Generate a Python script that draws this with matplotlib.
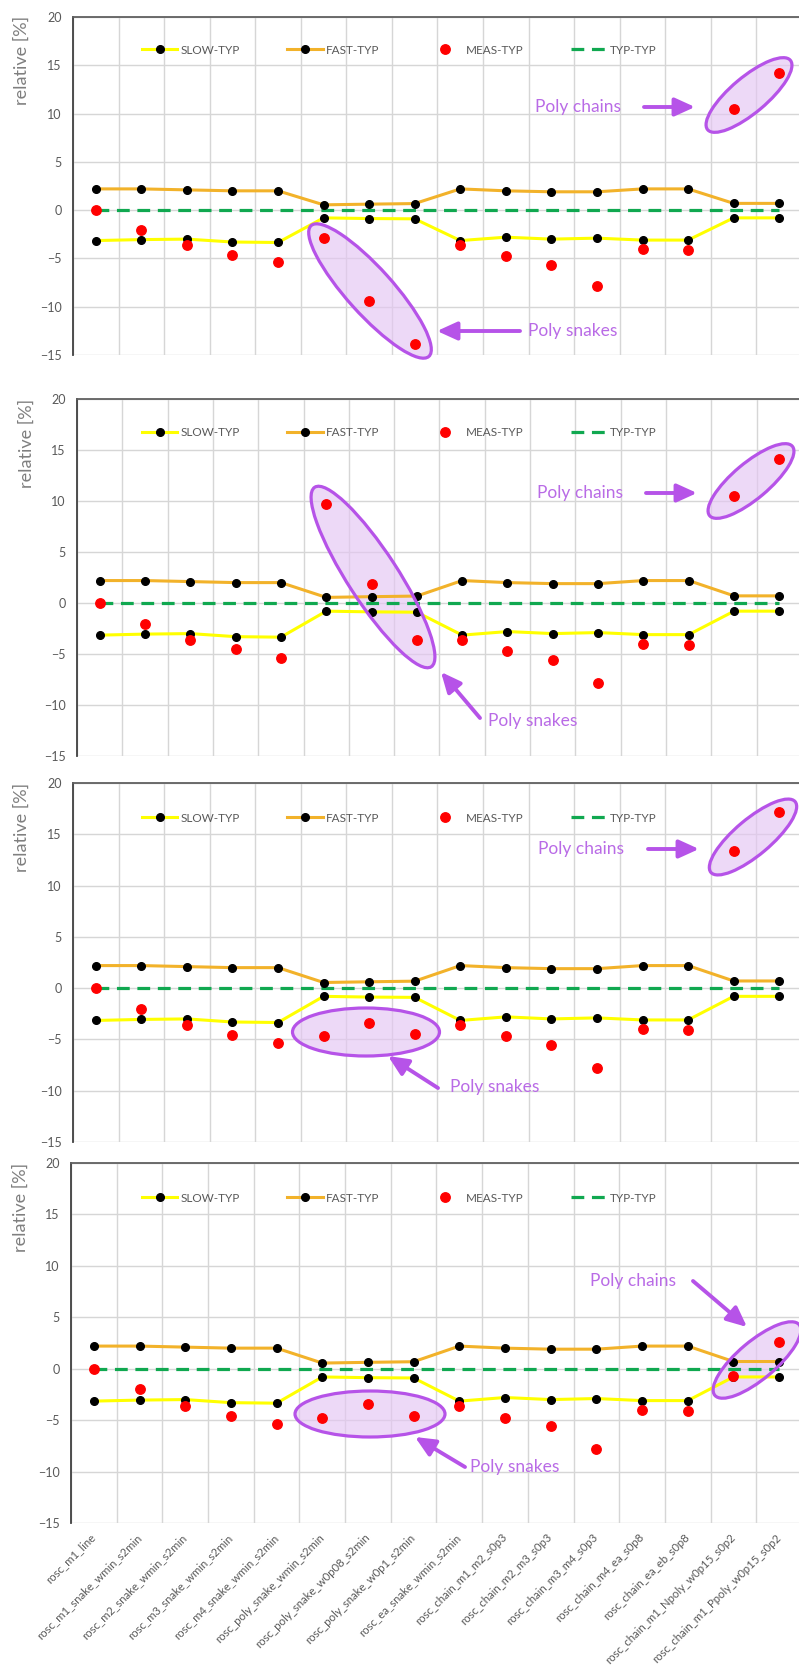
import matplotlib
matplotlib.use("Agg")
import matplotlib.pyplot as plt
from matplotlib.patches import Ellipse

plt.rcParams['font.family'] = ['Lato', 'DejaVu Sans']

W, H = 799, 1675

categories = ['rosc_m1_line', 'rosc_m1_snake_wmin_s2min', 'rosc_m2_snake_wmin_s2min',
              'rosc_m3_snake_wmin_s2min', 'rosc_m4_snake_wmin_s2min', 'rosc_poly_snake_wmin_s2min',
              'rosc_poly_snake_w0p08_s2min', 'rosc_poly_snake_w0p1_s2min', 'rosc_ea_snake_wmin_s2min',
              'rosc_chain_m1_m2_s0p3', 'rosc_chain_m2_m3_s0p3', 'rosc_chain_m3_m4_s0p3',
              'rosc_chain_m4_ea_s0p8', 'rosc_chain_ea_eb_s0p8', 'rosc_chain_m1_Npoly_w0p15_s0p2',
              'rosc_chain_m1_Ppoly_w0p15_s0p2']

fast_typ = [2.2, 2.2, 2.1, 2.0, 2.0, 0.55, 0.62, 0.68, 2.2, 2.0, 1.9, 1.9, 2.2, 2.2, 0.7, 0.7]
slow_typ = [-3.15, -3.05, -3.0, -3.3, -3.35, -0.8, -0.87, -0.9, -3.15, -2.8, -3.0, -2.9, -3.1, -3.1, -0.8, -0.8]
typ_typ = [0, 0, 0, 0, 0, 0, 0, 0, 0, 0, 0, 0, 0, 0, 0, 0]

meas_1 = [0.0, -2.05, -3.6, -4.6, -5.35, -2.9, -9.4, -13.9, -3.6, -4.75, -5.65, -7.85, -4.0, -4.15, 10.45, 14.15]
meas_2 = [0.0, -2.05, -3.6, -4.55, -5.35, 9.7, 1.85, -3.65, -3.6, -4.75, -5.55, -7.85, -4.0, -4.1, 10.45, 14.15]
meas_3 = [0.0, -2.0, -3.6, -4.55, -5.35, -4.7, -3.4, -4.45, -3.6, -4.7, -5.55, -7.8, -3.95, -4.05, 13.4, 17.2]
meas_4 = [0.0, -2.0, -3.6, -4.55, -5.35, -4.75, -3.4, -4.55, -3.6, -4.75, -5.55, -7.85, -4.05, -4.1, -0.75, 2.6]

yellow = '#ffff00'
orange = '#f2b22a'
green = '#10a850'
red = '#ff0000'
purple = '#b653e8'
purple_txt = '#b96be6'
gray = '#595959'

fig = plt.figure(figsize=(W / 100, H / 100), dpi=100)

# panel boxes in image pixels: left, top, bottom, legend y, ylabel (x, y)
panels = [
    (73, 17, 355, 50, (22, 60)),
    (77, 399, 756, 433, (27, 443)),
    (73, 783, 1142, 818, (22, 827)),
    (71, 1163, 1523, 1198, (21, 1207)),
]
meas_all = [meas_1, meas_2, meas_3, meas_4]

# annotations (image px): ellipse (cx, cy, w, h, angle), text (x, y), arrow (x0, y0, x1, y1)
chains = [
    ((749, 95, 108, 36, 40), (535, 107), (644, 107, 695, 107)),
    ((751, 481, 108, 36, 40), (537, 493), (646, 493, 697, 493)),
    ((753, 837, 110, 36, 40), (538, 849), (648, 849, 699, 849)),
    ((757, 1360, 110, 38, 40), (590, 1281), (693, 1281, 747, 1327)),
]
snakes = [
    ((370, 291, 176, 46, -48), (528, 331), (520, 331, 437, 331)),
    ((373, 577, 214, 50, -57), (488, 721), (480, 718, 441, 672)),
    ((366, 1032, 147, 48, 0), (450, 1087), (438, 1088, 388, 1056)),
    ((370, 1414, 150, 46, 0), (470, 1467), (465, 1467, 415, 1437)),
]

x = list(range(len(categories)))

for i, (left, top, bottom, leg_y, ylab) in enumerate(panels):
    ax = fig.add_axes([left / W, 1 - bottom / H, (802 - left) / W, (bottom - top) / H])
    ax.set_xlim(-0.5, 15.5)
    ax.set_ylim(-15, 20)
    ax.set_yticks([-15, -10, -5, 0, 5, 10, 15, 20])
    ax.set_xticks(x)
    ax.set_xticks([k - 0.5 for k in range(17)], minor=True)
    ax.grid(which='minor', axis='x', color='#d6d6d6', lw=1)
    ax.grid(which='major', axis='y', color='#d6d6d6', lw=1)
    ax.tick_params(which='both', length=0)
    ax.tick_params(axis='y', labelsize=9, labelcolor=gray, pad=8)
    ax.set_axisbelow(True)
    for s in ['right', 'bottom']:
        ax.spines[s].set_visible(False)
    ax.spines['left'].set_color('#404040')
    ax.spines['left'].set_linewidth(1.3)
    ax.spines['top'].set_color('#606060')
    ax.spines['top'].set_linewidth(1.3)

    if i == 3:
        ax.set_xticklabels(categories, rotation=45, ha='right', va='center',
                           rotation_mode='anchor', fontsize=8.2, color=gray)
        ax.tick_params(axis='x', pad=9)
    else:
        ax.tick_params(axis='x', labelbottom=False)

    typ, = ax.plot(x, typ_typ, color=green, lw=2.3, dashes=(4, 2.4), zorder=3)
    fast, = ax.plot(x, fast_typ, color=orange, lw=2.2, marker='o', ms=5.5,
                    mfc='black', mec='black', zorder=4)
    slow, = ax.plot(x, slow_typ, color=yellow, lw=2.2, marker='o', ms=5.5,
                    mfc='black', mec='black', zorder=4)
    meas, = ax.plot(x, meas_all[i], ls='none', marker='o', ms=6.8, color=red, zorder=5)

    ax.legend([slow, fast, meas, typ], ['SLOW-TYP', 'FAST-TYP', 'MEAS-TYP', 'TYP-TYP'],
              ncol=4, loc='center', bbox_to_anchor=(399 / W, 1 - leg_y / H),
              bbox_transform=fig.transFigure, frameon=False, fontsize=8.5,
              handlelength=3, handletextpad=0.3, columnspacing=4.0, labelcolor=gray,
              numpoints=1)

    fig.text(ylab[0] / W, 1 - ylab[1] / H, 'relative [%]', rotation=90, ha='center',
             va='center', fontsize=13, color='#7f7f7f')

    for (ell, txt, arr) in [chains[i], snakes[i]]:
        cx, cy, ew, eh, ang = ell
        e = Ellipse((cx / 100, (H - cy) / 100), ew / 100, eh / 100, angle=ang,
                    transform=fig.dpi_scale_trans, facecolor='#e4c6f3', alpha=0.65,
                    edgecolor='none', zorder=2, clip_on=False)
        ax.add_patch(e)
        e2 = Ellipse((cx / 100, (H - cy) / 100), ew / 100, eh / 100, angle=ang,
                     transform=fig.dpi_scale_trans, facecolor='none',
                     edgecolor=purple, lw=2.3, zorder=6, clip_on=False)
        ax.add_patch(e2)
        label = 'Poly chains' if (ell, txt, arr) == chains[i] else 'Poly snakes'
        fig.text(txt[0] / W, 1 - txt[1] / H, label, ha='left', va='center',
                 fontsize=12.5, color=purple_txt)
        ax.annotate('', xy=(arr[2], H - arr[3]), xytext=(arr[0], H - arr[1]),
                    xycoords='figure pixels', textcoords='figure pixels',
                    arrowprops=dict(arrowstyle='-|>,head_length=1.1,head_width=0.5',
                                    mutation_scale=11, lw=2.8, color=purple,
                                    shrinkA=0, shrinkB=0), zorder=7)

fig.savefig('out.png', dpi=100)
